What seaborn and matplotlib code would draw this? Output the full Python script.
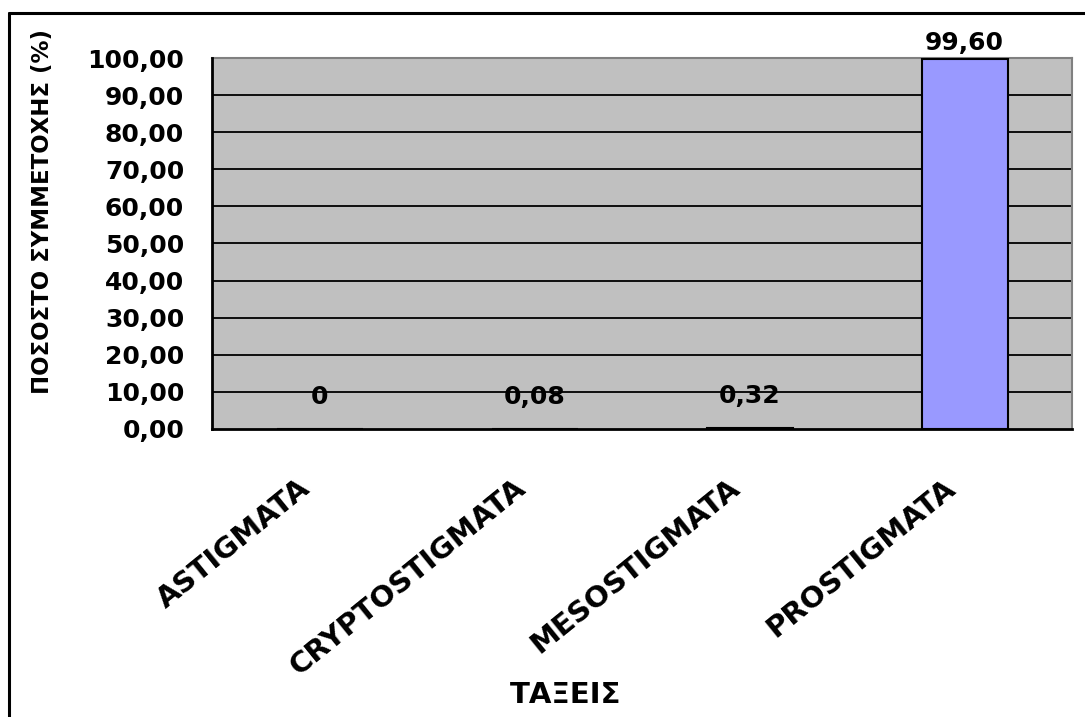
import matplotlib
matplotlib.use("Agg")
import matplotlib.pyplot as plt
import seaborn as sns
import pandas as pd
from matplotlib.lines import Line2D
from matplotlib.ticker import FuncFormatter, FixedLocator

categories = ["ASTIGMATA", "CRYPTOSTIGMATA", "MESOSTIGMATA", "PROSTIGMATA"]
values = [0.0, 0.08, 0.32, 99.60]
value_labels = ["0", "0,08", "0,32", "99,60"]
y_ticks = [0, 10, 20, 30, 40, 50, 60, 70, 80, 90, 100]
y_label = "ΠΟΣΟΣΤΟ ΣΥΜΜΕΤΟΧΗΣ (%)"
x_label = "ΤΑΞΕΙΣ"

sns.set_theme(style="white")
plt.rcParams["font.family"] = ["DejaVu Sans"]
plt.rcParams["font.weight"] = "bold"
plt.rcParams["text.color"] = "black"
plt.rcParams["xtick.color"] = "black"
plt.rcParams["ytick.color"] = "black"
plt.rcParams["axes.labelcolor"] = "black"

W, H = 1085, 717
fig = plt.figure(figsize=(W / 100, H / 100), dpi=100)
fig.patch.set_facecolor("white")
ax = fig.add_axes([212 / W, 1 - 429 / H, (1072 - 212) / W, (429 - 58) / H])
ax.set_facecolor("#C0C0C0")

df = pd.DataFrame({"cat": categories, "val": values})
sns.barplot(data=df, x="cat", y="val", color="#9999FF", saturation=1,
            width=0.4, edgecolor="black", linewidth=1.5, ax=ax, zorder=3)

ax.set_ylim(0, 100)
ax.set_xlim(-0.5, len(categories) - 0.5)
ax.set_yticks(y_ticks)
ax.yaxis.set_major_formatter(FuncFormatter(lambda v, p: f"{v:.2f}".replace(".", ",")))
for t in y_ticks[1:]:
    ax.axhline(t, color="black", lw=1.3, zorder=1)

ax.tick_params(axis="y", direction="out", length=9, width=1.3, color="black",
               pad=11, labelsize=18, labelcolor="black")
ax.xaxis.set_minor_locator(FixedLocator([i - 0.5 for i in range(len(categories) + 1)]))
ax.tick_params(axis="x", which="major", length=0, labelbottom=False)
ax.tick_params(axis="x", which="minor", direction="out", length=8, width=1.3, color="black")
for lab in ax.get_yticklabels():
    lab.set_fontweight("bold")
ax.set_xticks(range(len(categories)))
ax.set_xlabel("")
ax.set_ylabel("")

# category labels, placed along the x axis (rotated like the reference)
for i, cat in enumerate(categories):
    ax.annotate(cat, (i, 0), xycoords=ax.get_xaxis_transform(),
                xytext=(-15.5, -32), textcoords="offset points",
                ha="right", va="top", rotation=39, rotation_mode="anchor",
                fontsize=21, fontweight="bold", color="black",
                annotation_clip=False)

for side in ["left", "bottom"]:
    ax.spines[side].set_color("black")
    ax.spines[side].set_linewidth(2)
    ax.spines[side].set_zorder(5)
for side in ["top", "right"]:
    ax.spines[side].set_color("#808080")
    ax.spines[side].set_linewidth(1.5)

for i, (v, lab) in enumerate(zip(values, value_labels)):
    off = 12 if v > 50 else 23
    ax.annotate(lab, (i, v), xytext=(0, off), textcoords="offset points",
                ha="center", va="center", fontsize=18, fontweight="bold",
                color="black", zorder=6)

fig.text(43 / W, 1 - 212 / H, y_label, rotation=90, ha="center", va="center",
         fontsize=16.5, fontweight="bold")
fig.text(566 / W, 1 - 695 / H, x_label, ha="center", va="center",
         fontsize=21, fontweight="bold")

fig.add_artist(Line2D([8.5 / W, 1.0], [1 - 12.5 / H, 1 - 12.5 / H],
                      transform=fig.transFigure, color="black", lw=2.2))
fig.add_artist(Line2D([8.5 / W, 8.5 / W], [0, 1 - 12.5 / H],
                      transform=fig.transFigure, color="black", lw=2.2))

fig.savefig("out.png", dpi=100)
